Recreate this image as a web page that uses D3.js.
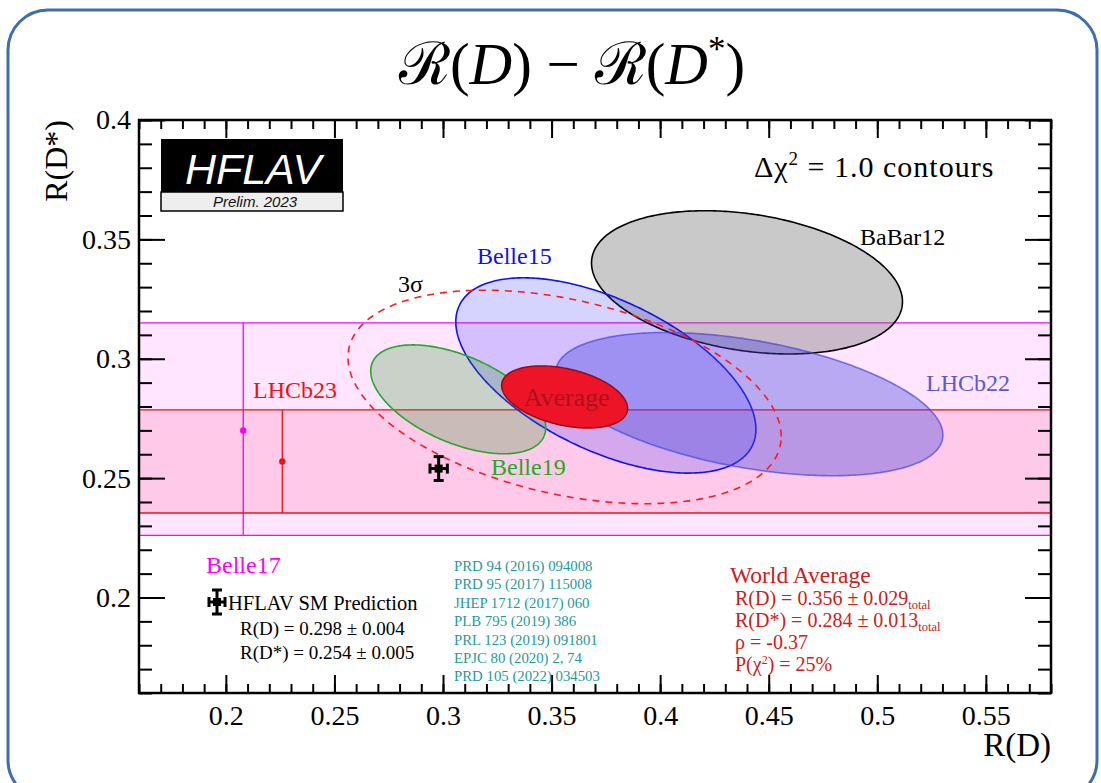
<!DOCTYPE html>
<html><head><meta charset="utf-8">
<script src="https://cdn.jsdelivr.net/npm/d3@7"></script>
<style>
html,body{margin:0;padding:0;background:#fff;}
svg{display:block;font-family:"Liberation Serif","Times New Roman",serif;}
</style></head><body>
<svg id="chart" width="1101" height="783"></svg>
<script>
// Two-dimensional R(D), R(D*) measurements (total uncertainties, correlation)
const experiments  = ["BaBar12", "Belle15", "LHCb22", "Belle19"];
const rdValues     = [0.440, 0.375, 0.441, 0.307];
const rdErrors     = [0.0716, 0.0691, 0.0892, 0.0403];
const rdsValues    = [0.332, 0.293, 0.281, 0.283];
const rdsErrors    = [0.0300, 0.0409, 0.0300, 0.0228];
const correlations = [-0.27, -0.55, -0.43, -0.52];

// R(D*)-only measurements, shown as horizontal bands
const bandNames  = ["Belle17", "LHCb23"];
const bandValues = [0.270, 0.257];
const bandErrHi  = [0.045, 0.0216];
const bandErrLo  = [0.044, 0.0216];
const bandPointRD = [0.208, 0.226];

// World average and SM prediction
const avgRD  = [0.356, 0.029];
const avgRDs = [0.284, 0.013];
const avgRho = -0.37;
const avgProb = 25;
const smRD  = [0.298, 0.004];
const smRDs = [0.254, 0.005];

const references = [
  "PRD 94 (2016) 094008",
  "PRD 95 (2017) 115008",
  "JHEP 1712 (2017) 060",
  "PLB 795 (2019) 386",
  "PRL 123 (2019) 091801",
  "EPJC 80 (2020) 2, 74",
  "PRD 105 (2022) 034503"
];

const xDomain = [0.16, 0.58];
const yDomain = [0.16, 0.40];
const xTicks = [0.2, 0.25, 0.3, 0.35, 0.4, 0.45, 0.5, 0.55];
const xTickLabels = ["0.2", "0.25", "0.3", "0.35", "0.4", "0.45", "0.5", "0.55"];
const yTicks = [0.2, 0.25, 0.3, 0.35, 0.4];
const yTickLabels = ["0.2", "0.25", "0.3", "0.35", "0.4"];

// ---- layout and styles ----
const P = {left: 139, right: 1051, top: 120, bottom: 693};
const style = {
  BaBar12: {fill: "rgba(120,120,120,0.4)", stroke: "#000000", label: "#000000"},
  Belle15: {fill: "rgba(40,40,255,0.2)", stroke: "#1010f0", label: "#1010ee"},
  LHCb22:  {fill: "rgba(70,70,220,0.38)", stroke: "rgba(70,70,220,0.7)", label: "#5a5ad2"},
  Belle19: {fill: "rgba(40,150,40,0.25)", stroke: "#22aa22", label: "#22aa22"},
  Belle17: {band: "rgba(255,0,255,0.10)", line: "#ff00ff"},
  LHCb23:  {band: "rgba(255,0,70,0.12)", line: "#ee1111"}
};
const SANS = "'Liberation Sans', Arial, sans-serif";

const svg = d3.select("#chart");
svg.append("rect").attr("width", 1101).attr("height", 783).attr("fill", "#fff");

// rounded slide border
svg.append("rect")
  .attr("x", 8).attr("y", 10).attr("width", 1089).attr("height", 790)
  .attr("rx", 40).attr("ry", 40)
  .attr("fill", "none").attr("stroke", "#3e6db0").attr("stroke-width", 3);

const x = d3.scaleLinear().domain(xDomain).range([P.left, P.right]);
const y = d3.scaleLinear().domain(yDomain).range([P.bottom, P.top]);

svg.append("clipPath").attr("id", "plotclip")
  .append("rect").attr("x", P.left).attr("y", P.top)
  .attr("width", P.right - P.left).attr("height", P.bottom - P.top);

const plot = svg.append("g").attr("clip-path", "url(#plotclip)");

// ---- bands ----
bandNames.forEach((name, i) => {
  const s = style[name];
  const y0 = y(bandValues[i] + bandErrHi[i]);
  const y1 = y(bandValues[i] - bandErrLo[i]);
  plot.append("rect").attr("x", P.left).attr("y", y0)
    .attr("width", P.right - P.left).attr("height", y1 - y0)
    .attr("fill", s.band);
  [y0, y1].forEach(yy => plot.append("line")
    .attr("x1", P.left).attr("x2", P.right).attr("y1", yy).attr("y2", yy)
    .attr("stroke", s.line).attr("stroke-width", 1.3));
  plot.append("line")
    .attr("x1", x(bandPointRD[i])).attr("x2", x(bandPointRD[i]))
    .attr("y1", y0).attr("y2", y1)
    .attr("stroke", s.line).attr("stroke-width", 1.3);
  plot.append("circle")
    .attr("cx", x(bandPointRD[i])).attr("cy", y(bandValues[i])).attr("r", 3.2)
    .attr("fill", s.line);
});

// ---- error ellipses ----
const angles = d3.range(0, 2 * Math.PI, Math.PI / 180);
function ellipsePath(cx, sx, cy, sy, rho, k) {
  const c = Math.sqrt(1 - rho * rho);
  const pts = angles.map(t => [
    x(cx + k * sx * Math.cos(t)),
    y(cy + k * sy * (rho * Math.cos(t) + c * Math.sin(t)))
  ]);
  return d3.line().curve(d3.curveLinearClosed)(pts);
}

experiments.forEach((name, i) => {
  const s = style[name];
  plot.append("path")
    .attr("d", ellipsePath(rdValues[i], rdErrors[i], rdsValues[i], rdsErrors[i], correlations[i], 1))
    .attr("fill", s.fill).attr("stroke", s.stroke).attr("stroke-width", 1.6);
});

// world average, 1 sigma and 3 sigma (2 d.o.f.)
plot.append("path")
  .attr("d", ellipsePath(avgRD[0], avgRD[1], avgRDs[0], avgRDs[1], avgRho, 1))
  .attr("fill", "#ee1427").attr("stroke", "#9a0a10").attr("stroke-width", 1.5);
plot.append("path")
  .attr("d", ellipsePath(avgRD[0], avgRD[1], avgRDs[0], avgRDs[1], avgRho, Math.sqrt(11.83)))
  .attr("fill", "none").attr("stroke", "#ff1a1a").attr("stroke-width", 1.6)
  .attr("stroke-dasharray", "7,6");

plot.append("text")
  .attr("x", x(avgRD[0]) + 2).attr("y", y(avgRDs[0]) + 9)
  .attr("text-anchor", "middle").attr("font-size", 26)
  .attr("fill", "#7a1018").attr("fill-opacity", 0.6).text("Average");

// SM prediction cross
function smCross(g, cx, cy, hx, hy) {
  const cap = 5;
  g.append("line").attr("x1", cx - hx).attr("x2", cx + hx).attr("y1", cy).attr("y2", cy);
  g.append("line").attr("x1", cx).attr("x2", cx).attr("y1", cy - hy).attr("y2", cy + hy);
  g.append("line").attr("x1", cx - hx).attr("x2", cx - hx).attr("y1", cy - cap).attr("y2", cy + cap);
  g.append("line").attr("x1", cx + hx).attr("x2", cx + hx).attr("y1", cy - cap).attr("y2", cy + cap);
  g.append("line").attr("x1", cx - cap).attr("x2", cx + cap).attr("y1", cy - hy).attr("y2", cy - hy);
  g.append("line").attr("x1", cx - cap).attr("x2", cx + cap).attr("y1", cy + hy).attr("y2", cy + hy);
  g.selectAll("line").attr("stroke", "#000").attr("stroke-width", 3);
  g.append("rect").attr("x", cx - 4).attr("y", cy - 4).attr("width", 8).attr("height", 8).attr("fill", "#000");
}
const smX = x(smRD[0]), smY = y(smRDs[0]);
smCross(svg.append("g"), smX, smY, x(smRD[0] + smRD[1]) - smX, smY - y(smRDs[0] + smRDs[1]));

// ---- experiment labels ----
const labels = [
  {t: "BaBar12", x: 860, y: 245, c: style.BaBar12.label},
  {t: "Belle15", x: 477, y: 264, c: style.Belle15.label},
  {t: "LHCb22",  x: 926, y: 391, c: style.LHCb22.label},
  {t: "Belle19", x: 491, y: 475, c: style.Belle19.label},
  {t: "LHCb23",  x: 253, y: 398, c: "#ee1111"},
  {t: "Belle17", x: 206, y: 573, c: "#ff00ff"},
  {t: "3σ",      x: 398, y: 292, c: "#000"}
];
labels.forEach(l => svg.append("text").attr("x", l.x).attr("y", l.y)
  .attr("font-size", 24).attr("fill", l.c).text(l.t));

// contour note
const note = svg.append("text").attr("x", 754).attr("y", 177).attr("font-size", 30)
  .attr("letter-spacing", 1).attr("fill", "#000");
note.append("tspan").text("Δχ");
note.append("tspan").attr("font-size", 19).attr("dy", -12).text("2");
note.append("tspan").attr("dy", 12).text(" = 1.0 contours");

// ---- axes ----
const minorX = d3.range(16, 59).map(v => v / 100);
const minorY = d3.range(16, 41).map(v => v / 100);
function styleAxis(g) {
  g.select(".domain").remove();
  g.selectAll(".tick line").attr("stroke", "#000").attr("stroke-width", 2);
  g.selectAll(".tick text").style("font-family", "'Liberation Serif', serif")
    .attr("font-size", 28).attr("fill", "#000");
}
svg.append("g").attr("transform", `translate(0,${P.bottom})`)
  .call(d3.axisBottom(x).tickValues(minorX).tickSize(-9).tickFormat("")).call(styleAxis);
svg.append("g").attr("transform", `translate(0,${P.bottom})`)
  .call(d3.axisBottom(x).tickValues(xTicks).tickSize(-18).tickPadding(12)
    .tickFormat((d, i) => xTickLabels[i])).call(styleAxis);
svg.append("g").attr("transform", `translate(0,${P.top})`)
  .call(d3.axisTop(x).tickValues(minorX).tickSize(-9).tickFormat("")).call(styleAxis);
svg.append("g").attr("transform", `translate(0,${P.top})`)
  .call(d3.axisTop(x).tickValues(xTicks).tickSize(-18).tickFormat("")).call(styleAxis);
svg.append("g").attr("transform", `translate(${P.left},0)`)
  .call(d3.axisLeft(y).tickValues(minorY).tickSize(-13).tickFormat("")).call(styleAxis);
svg.append("g").attr("transform", `translate(${P.left},0)`)
  .call(d3.axisLeft(y).tickValues(yTicks).tickSize(-26).tickPadding(8)
    .tickFormat((d, i) => yTickLabels[i])).call(styleAxis);
svg.append("g").attr("transform", `translate(${P.right},0)`)
  .call(d3.axisRight(y).tickValues(minorY).tickSize(-13).tickFormat("")).call(styleAxis);
svg.append("g").attr("transform", `translate(${P.right},0)`)
  .call(d3.axisRight(y).tickValues(yTicks).tickSize(-26).tickFormat("")).call(styleAxis);

svg.append("rect").attr("x", P.left).attr("y", P.top)
  .attr("width", P.right - P.left).attr("height", P.bottom - P.top)
  .attr("fill", "none").attr("stroke", "#000").attr("stroke-width", 2.5);

// axis titles
svg.append("text").attr("x", P.right).attr("y", 756).attr("text-anchor", "end")
  .attr("font-size", 33).text("R(D)");
svg.append("text").attr("transform", `translate(67,${P.top}) rotate(-90)`)
  .attr("text-anchor", "end").attr("font-size", 32).text("R(D*)");

// ---- title ----
const title = svg.append("text").attr("x", 572).attr("y", 84).attr("text-anchor", "middle")
  .attr("font-size", 59).attr("fill", "#000");
title.append("tspan").style("font-family", "'DejaVu Serif', serif").text("ℛ");
title.append("tspan").text("(");
title.append("tspan").attr("font-style", "italic").text("D");
title.append("tspan").text(") − ");
title.append("tspan").style("font-family", "'DejaVu Serif', serif").text("ℛ");
title.append("tspan").text("(");
title.append("tspan").attr("font-style", "italic").text("D");
title.append("tspan").attr("font-size", 35).attr("dy", -23).text("*");
title.append("tspan").attr("dy", 23).text(")");

// ---- HFLAV logo ----
const logo = svg.append("g");
logo.append("rect").attr("x", 161).attr("y", 139).attr("width", 182).attr("height", 53).attr("fill", "#000");
logo.append("rect").attr("x", 161).attr("y", 192).attr("width", 182).attr("height", 19)
  .attr("fill", "#eeeeee").attr("stroke", "#000").attr("stroke-width", 1.5);
logo.append("text").attr("x", 253).attr("y", 184).attr("text-anchor", "middle")
  .style("font-family", SANS).attr("font-style", "italic").attr("font-size", 43)
  .attr("fill", "#fff").text("HFLAV");
logo.append("text").attr("x", 255).attr("y", 207).attr("text-anchor", "middle")
  .style("font-family", SANS).attr("font-style", "italic").attr("font-size", 15)
  .attr("fill", "#111").text("Prelim. 2023");

// ---- SM prediction legend ----
smCross(svg.append("g"), 217, 602, 8, 12);
svg.append("text").attr("x", 228).attr("y", 610).attr("font-size", 20.5).text("HFLAV SM Prediction");
svg.append("text").attr("x", 240).attr("y", 635).attr("font-size", 19)
  .text(`R(D) = ${smRD[0].toFixed(3)} ± ${smRD[1].toFixed(3)}`);
svg.append("text").attr("x", 240).attr("y", 659).attr("font-size", 19)
  .text(`R(D*) = ${smRDs[0].toFixed(3)} ± ${smRDs[1].toFixed(3)}`);

// ---- references ----
references.forEach((r, i) => svg.append("text")
  .attr("x", 454).attr("y", 571 + i * 18.4).attr("font-size", 14.8)
  .attr("fill", "#1f9a9a").text(r));

// ---- world average box ----
const wa = svg.append("g").attr("fill", "#cc2020");
wa.append("text").attr("x", 730).attr("y", 583).attr("font-size", 23.5).text("World Average");
function withSub(yy, main, sub) {
  const t = wa.append("text").attr("x", 735).attr("y", yy).attr("font-size", 20);
  t.append("tspan").text(main);
  t.append("tspan").attr("font-size", 12.5).attr("dy", 4).text(sub);
}
withSub(605, `R(D) = ${avgRD[0].toFixed(3)} ± ${avgRD[1].toFixed(3)}`, "total");
withSub(627, `R(D*) = ${avgRDs[0].toFixed(3)} ± ${avgRDs[1].toFixed(3)}`, "total");
wa.append("text").attr("x", 735).attr("y", 649).attr("font-size", 20).text(`ρ = ${avgRho.toFixed(2)}`);
const pt = wa.append("text").attr("x", 735).attr("y", 671).attr("font-size", 20);
pt.append("tspan").text("P(χ");
pt.append("tspan").attr("font-size", 12).attr("dy", -7).text("2");
pt.append("tspan").attr("dy", 7).text(`) = ${avgProb}%`);
</script>
</body></html>
